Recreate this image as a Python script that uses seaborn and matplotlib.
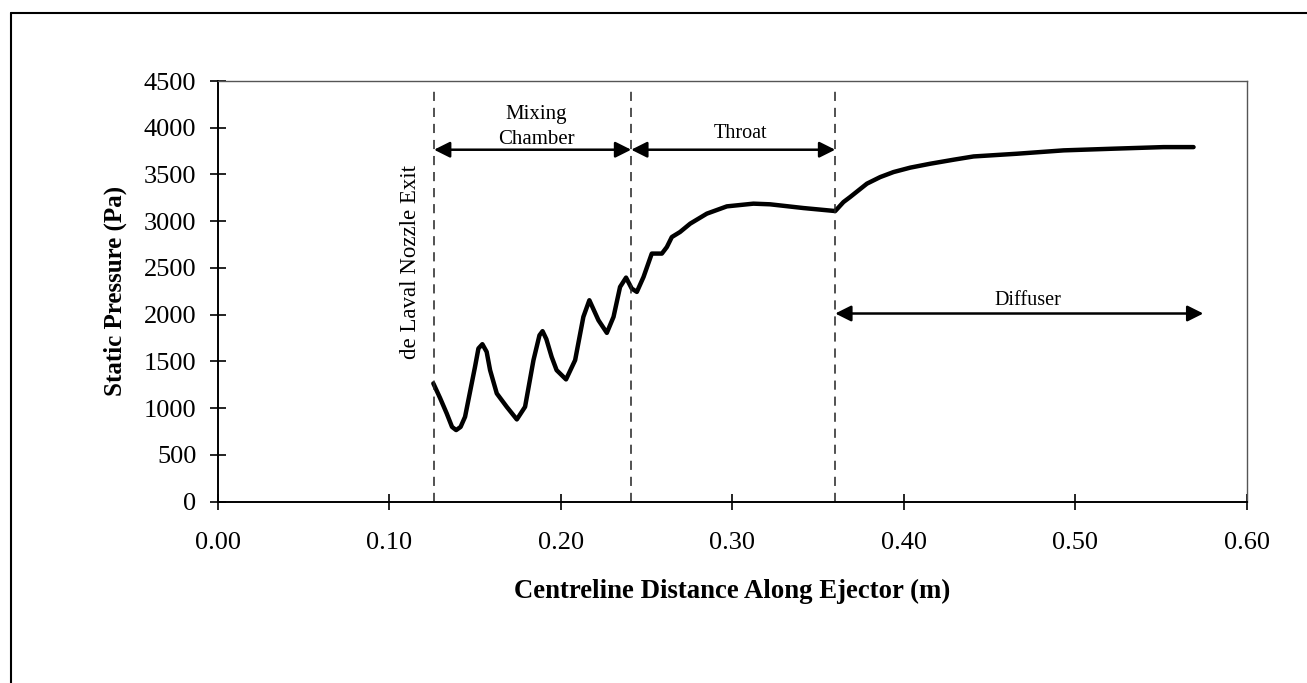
import matplotlib
matplotlib.use("Agg")
import matplotlib.pyplot as plt
from matplotlib.lines import Line2D
import seaborn as sns
import pandas as pd

# Centreline static pressure along the ejector
distance_m = [0.1256, 0.1295, 0.1334, 0.1365, 0.1389, 0.1415, 0.1441, 0.1499, 0.1519,
              0.1542, 0.1567, 0.1587, 0.1626, 0.1684, 0.1743, 0.1791, 0.1840, 0.1875,
              0.1893, 0.1915, 0.1946, 0.1975, 0.2030, 0.2083, 0.2131, 0.2166, 0.2219,
              0.2268, 0.2307, 0.2345, 0.2380, 0.2413, 0.2443, 0.2482, 0.2530, 0.2589,
              0.2618, 0.2647, 0.2695, 0.2754, 0.2851, 0.2968, 0.3123, 0.3220, 0.3415,
              0.3600, 0.3648, 0.3687, 0.3785, 0.3862, 0.3940, 0.4037, 0.4154, 0.4290,
              0.4407, 0.4660, 0.4932, 0.5224, 0.5515, 0.5690]
pressure_pa = [1265, 1110, 944, 800, 766, 800, 908, 1442, 1639,
               1685, 1603, 1407, 1158, 1015, 880, 1015, 1514, 1780,
               1824, 1740, 1549, 1407, 1308, 1514, 1977, 2155, 1941,
               1806, 1977, 2297, 2397, 2280, 2244, 2404, 2654, 2654,
               2724, 2831, 2885, 2974, 3081, 3159, 3188, 3181, 3141,
               3109, 3205, 3259, 3402, 3472, 3526, 3573, 3615, 3658,
               3693, 3722, 3758, 3776, 3793, 3793]

# Section boundaries and labels
boundaries_m = [0.126, 0.241, 0.360]
x_ticks = [0.0, 0.1, 0.2, 0.3, 0.4, 0.5, 0.6]
y_ticks = [0, 500, 1000, 1500, 2000, 2500, 3000, 3500, 4000, 4500]

sns.set_theme(style="white")
plt.rcParams["font.family"] = ["Liberation Serif", "DejaVu Serif"]
plt.rcParams["text.color"] = "black"
plt.rcParams["axes.labelcolor"] = "black"

fig = plt.figure(figsize=(13.07, 6.83), dpi=100)
ax = fig.add_axes([218 / 1307, 1 - 501.7 / 683, (1246.7 - 218) / 1307, (501.7 - 81) / 683])

df = pd.DataFrame({"distance": distance_m, "pressure": pressure_pa})
sns.lineplot(data=df, x="distance", y="pressure", ax=ax, color="black",
             linewidth=3.2, sort=False, estimator=None)

ax.set_xlim(0, 0.6)
ax.set_ylim(0, 4500)
ax.set_xticks(x_ticks)
ax.set_xticklabels([f"{v:.2f}" for v in x_ticks])
ax.set_yticks(y_ticks)
ax.set_yticklabels([str(v) for v in y_ticks])
ax.tick_params(axis="both", direction="inout", length=11, width=1.2, colors="black",
               labelcolor="black", labelsize=19, left=True, bottom=True)
ax.tick_params(axis="y", pad=10)
ax.tick_params(axis="x", pad=16)

for side in ["left", "bottom"]:
    ax.spines[side].set_color("black")
    ax.spines[side].set_linewidth(1.4)
for side in ["top", "right"]:
    ax.spines[side].set_color("#555555")
    ax.spines[side].set_linewidth(1.0)

ax.set_xlabel("Centreline Distance Along Ejector (m)", fontsize=19.3,
              fontweight="bold", labelpad=18)
ax.set_ylabel("Static Pressure (Pa)", fontsize=18, fontweight="bold", labelpad=12)

# Section boundaries
for b in boundaries_m:
    ax.plot([b, b], [0, 4420], color="#222222", linewidth=1.1, linestyle=(0, (6, 4.5)))

# Section span arrows
arrow_kw = dict(arrowstyle="<|-|>", color="black", lw=1.8, mutation_scale=24,
                shrinkA=0, shrinkB=0)
ax.annotate("", xy=(boundaries_m[0], 3765), xytext=(boundaries_m[1], 3765),
            arrowprops=arrow_kw)
ax.annotate("", xy=(boundaries_m[1], 3765), xytext=(boundaries_m[2], 3765),
            arrowprops=arrow_kw)
ax.annotate("", xy=(boundaries_m[2], 2013), xytext=(0.5747, 2013),
            arrowprops=arrow_kw)

ax.text(0.1855, 4010, "Mixing\nChamber", ha="center", va="center", fontsize=15,
        linespacing=1.45)
ax.text(0.3046, 3943, "Throat", ha="center", va="center", fontsize=14.5)
ax.text(0.4726, 2147, "Diffuser", ha="center", va="center", fontsize=14.5)
ax.text(0.112, 2560, "de Laval Nozzle Exit", ha="center", va="center", fontsize=16.5,
        rotation=90)

# Page frame
fig.add_artist(Line2D([11 / 1307, 1.0], [1 - 13 / 683, 1 - 13 / 683],
                      transform=fig.transFigure, color="black", linewidth=1.5))
fig.add_artist(Line2D([11 / 1307, 11 / 1307], [0.0, 1 - 13 / 683],
                      transform=fig.transFigure, color="black", linewidth=1.5))

fig.savefig("out.png", dpi=100, facecolor="white")
